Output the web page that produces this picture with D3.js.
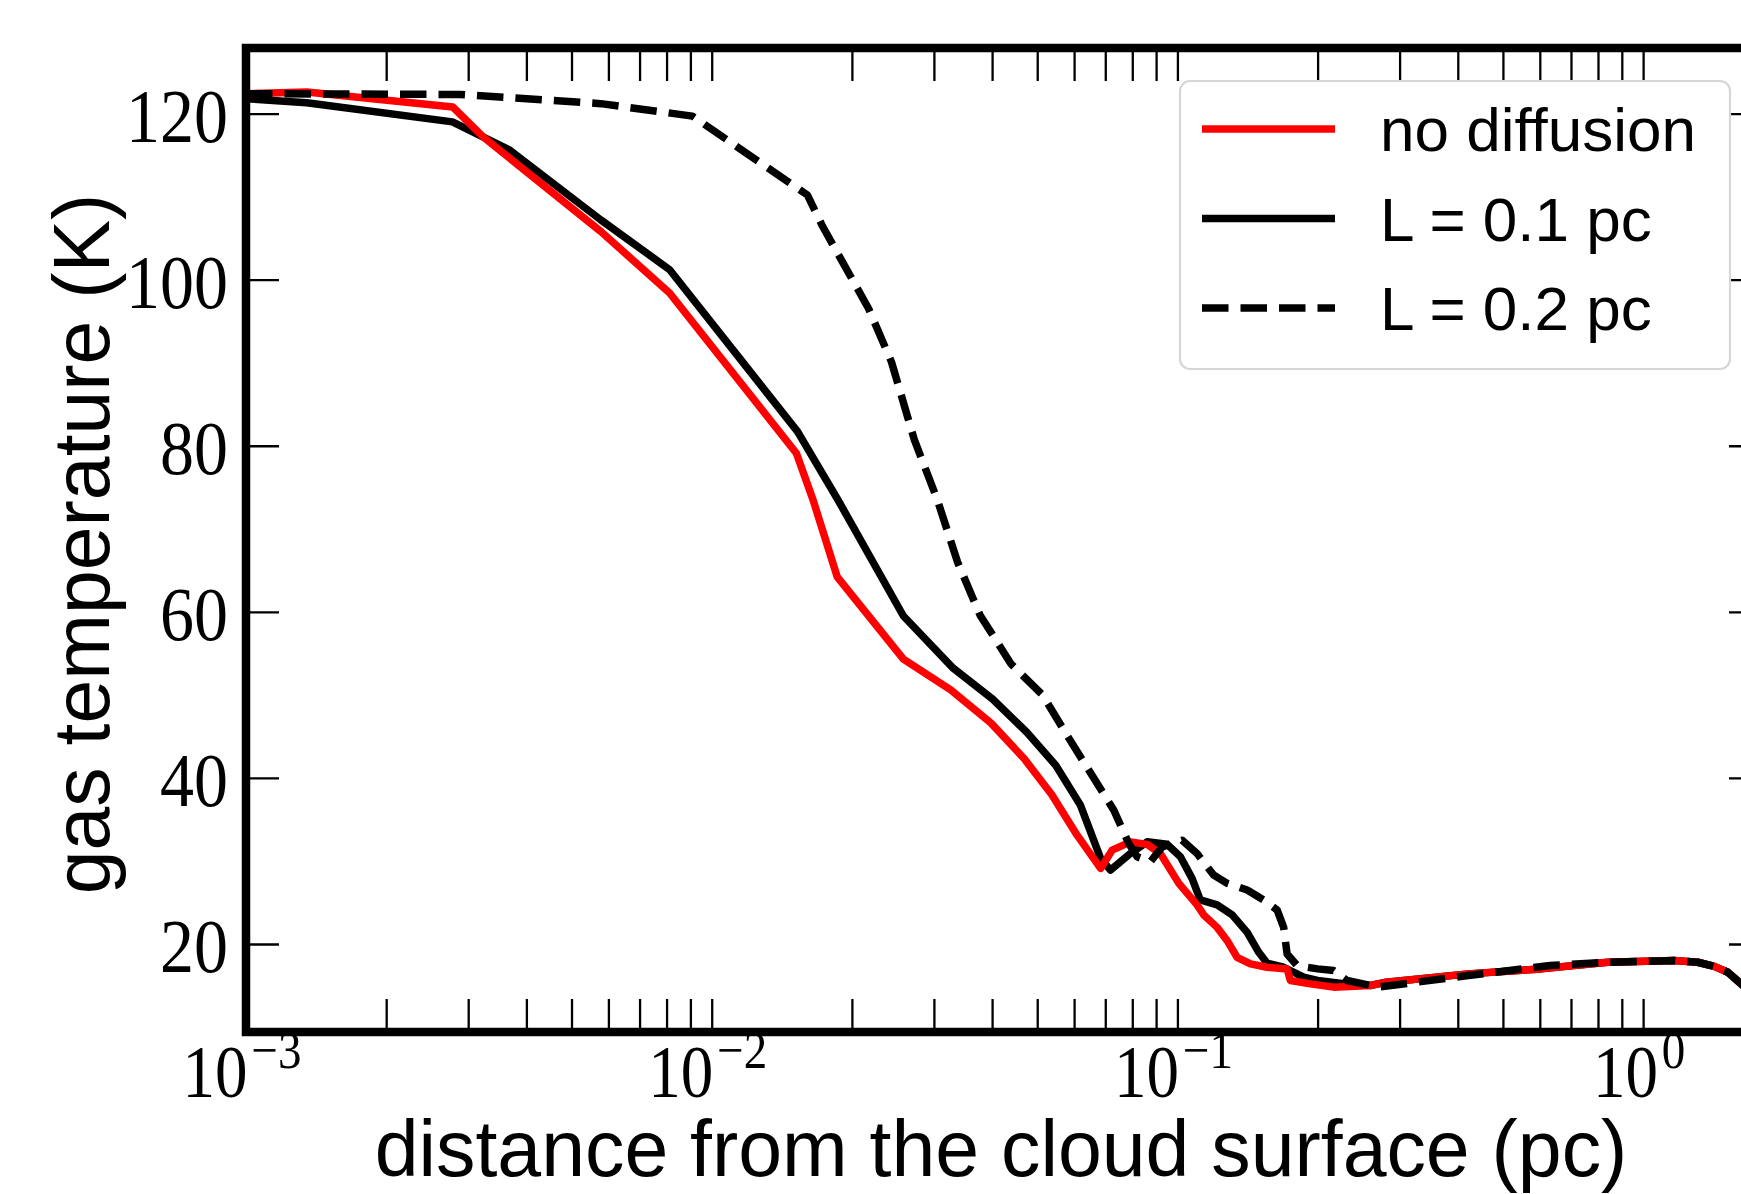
<!DOCTYPE html>
<html>
<head>
<meta charset="utf-8">
<script src="https://cdn.jsdelivr.net/npm/d3@7"></script>
<style>
  html, body { margin: 0; padding: 0; background: #fff; }
  svg { display: block; }
  .serif { font-family: "Liberation Serif", "Times New Roman", serif; fill: #000; }
  .sans { font-family: "Liberation Sans", Arial, sans-serif; fill: #000; }
</style>
</head>
<body>
<svg id="chart" width="1741" height="1194"></svg>
<script>
// distance from the cloud surface (pc) and gas temperature (K)
const noDiffusionX = [0.001, 0.00135, 0.00278, 0.00323, 0.00578, 0.00812, 0.0152, 0.0165, 0.0186, 0.0258,
  0.0326, 0.0398, 0.0469, 0.0537, 0.0609, 0.0684, 0.0724, 0.0793, 0.0861, 0.0919, 0.1007, 0.1102, 0.1139,
  0.1217, 0.1279, 0.1343, 0.1435, 0.1557, 0.172, 0.1748, 0.193, 0.2164, 0.2595, 0.281, 0.421, 0.604, 0.71,
  0.84, 1.167, 1.31, 1.422, 1.52, 1.623, 1.78];
const noDiffusionT = [122.4, 122.6, 120.8, 117.2, 105.8, 98.4, 79.1, 73.5, 64.2, 54.3,
  50.6, 46.6, 42.3, 38.0, 33.1, 29.1, 31.3, 32.3, 32.0, 30.9, 27.3, 24.7, 23.5,
  22.0, 20.4, 18.4, 17.6, 17.2, 17.0, 15.6, 15.2, 14.8, 15.0, 15.4, 16.4, 17.0, 17.4,
  17.8, 18.0, 17.8, 17.3, 16.6, 15.2, 13.2];

const l01X = [0.001, 0.00135, 0.002775, 0.003685, 0.005778, 0.008123, 0.01529, 0.01866, 0.0258, 0.03302,
  0.04009, 0.04749, 0.05483, 0.06193, 0.0684, 0.07181, 0.0793, 0.0861, 0.095, 0.1015, 0.1075, 0.112,
  0.1217, 0.1311, 0.1412, 0.1495, 0.1557, 0.1691, 0.1866, 0.2, 0.2275, 0.2595, 0.281, 0.421, 0.604, 0.71,
  0.84, 1.167, 1.31, 1.422, 1.52, 1.623, 1.78];
const l01T = [121.8, 121.3, 119.0, 115.6, 107.2, 101.2, 81.7, 73.5, 59.5, 53.2,
  49.5, 45.5, 41.5, 36.7, 30.3, 28.9, 30.9, 32.3, 32.0, 30.5, 27.9, 25.3,
  24.7, 23.5, 21.4, 19.0, 17.7, 17.2, 16.0, 15.6, 15.2, 15.0, 15.4, 16.4, 17.0, 17.4,
  17.8, 18.0, 17.8, 17.3, 16.6, 15.2, 13.2];

const l02X = [0.001, 0.002879, 0.005778, 0.00909, 0.01605, 0.01731, 0.02173, 0.02432, 0.02724, 0.03051,
  0.03372, 0.03769, 0.04397, 0.05131, 0.05859, 0.06541, 0.07303, 0.07862, 0.08195, 0.08752, 0.09273,
  0.1023, 0.1102, 0.1196, 0.1279, 0.1412, 0.1531, 0.1637, 0.1691, 0.172, 0.1807, 0.2, 0.2164, 0.2313,
  0.2699, 0.421, 0.631, 0.84, 1.167, 1.31, 1.422, 1.52, 1.623, 1.78];
const l02T = [122.4, 122.3, 121.2, 119.7, 110.2, 106.4, 96.5, 90.1, 80.7, 73.5,
  66.0, 59.6, 53.7, 50.0, 44.7, 40.4, 36.1, 32.1, 30.5, 29.9, 31.7,
  32.5, 30.9, 28.3, 27.3, 26.5, 25.3, 24.1, 22.0, 18.8, 17.4, 17.0, 16.8, 15.6,
  14.8, 16.2, 17.4, 17.8, 18.0, 17.8, 17.3, 16.6, 15.2, 13.2];

const legendLabels = ["no diffusion", "L = 0.1 pc", "L = 0.2 pc"];
const yTickValues = [20, 40, 60, 80, 100, 120];
const xMajorExponents = [-3, -2, -1, 0];
const xDomain = [1e-3, 1.8];
const yDomain = [9.4, 127.9];
const xLabel = "distance from the cloud surface (pc)";
const yLabel = "gas temperature (K)";

const margin = { top: 48, left: 246 };
const innerW = 1516;
const innerH = 984;
const tickLen = 33;
const dash = "26.5 12";

const svg = d3.select("#chart");
const g = svg.append("g").attr("transform", `translate(${margin.left},${margin.top})`);

const x = d3.scaleLog().domain(xDomain).range([0, innerW]);
const y = d3.scaleLinear().domain(yDomain).range([innerH, 0]);

svg.append("defs").append("clipPath").attr("id", "plot-clip")
  .append("rect").attr("width", innerW).attr("height", innerH);

function zip(xs, ts) {
  return xs.map((v, i) => [v, ts[i]]);
}

const series = [
  { name: legendLabels[1], data: zip(l01X, l01T), color: "#000", dash: null },
  { name: legendLabels[0], data: zip(noDiffusionX, noDiffusionT), color: "#ff0000", dash: null },
  { name: legendLabels[2], data: zip(l02X, l02T), color: "#000", dash: dash }
];

const line = d3.line().x((d) => x(d[0])).y((d) => y(d[1]));

g.append("g").attr("clip-path", "url(#plot-clip)")
  .selectAll("path")
  .data(series)
  .join("path")
  .attr("fill", "none")
  .attr("stroke", (d) => d.color)
  .attr("stroke-width", 7.5)
  .attr("stroke-linejoin", "round")
  .attr("stroke-dasharray", (d) => d.dash)
  .attr("d", (d) => line(d.data));

// log ticks, 1..9 in every decade inside the domain
const xTickValues = [];
for (let e = -3; e <= 0; e += 1) {
  for (let m = 1; m <= 9; m += 1) {
    const v = m * Math.pow(10, e);
    if (v >= xDomain[0] && v <= xDomain[1]) xTickValues.push(v);
  }
}

function styleAxis(sel) {
  sel.select(".domain").remove();
  sel.selectAll(".tick line").attr("stroke", "#000").attr("stroke-width", 2.3);
  sel.selectAll(".tick text").remove();
}

g.append("g").attr("transform", `translate(0,${innerH})`)
  .call(d3.axisBottom(x).tickValues(xTickValues).tickSize(-tickLen).tickFormat(""))
  .call(styleAxis);
g.append("g")
  .call(d3.axisTop(x).tickValues(xTickValues).tickSize(-tickLen).tickFormat(""))
  .call(styleAxis);
g.append("g")
  .call(d3.axisLeft(y).tickValues(yTickValues).tickSize(-tickLen).tickFormat(""))
  .call(styleAxis);
g.append("g").attr("transform", `translate(${innerW},0)`)
  .call(d3.axisRight(y).tickValues(yTickValues).tickSize(-tickLen).tickFormat(""))
  .call(styleAxis);

// frame
g.append("rect")
  .attr("width", innerW).attr("height", innerH)
  .attr("fill", "none").attr("stroke", "#000").attr("stroke-width", 8.5);

// y tick labels (serif, slightly tall like the TeX digits)
g.append("g").selectAll("text")
  .data(yTickValues)
  .join("text")
  .attr("class", "serif")
  .attr("text-anchor", "end")
  .attr("font-size", 68)
  .attr("transform", (d) => `translate(-18,${y(d) + 28.5}) scale(1,1.12)`)
  .text((d) => d);

// x tick labels 10^n
const xl = g.append("g").selectAll("text")
  .data(xMajorExponents)
  .join("text")
  .attr("class", "serif")
  .attr("text-anchor", "middle")
  .attr("font-size", 65)
  .attr("transform", (d) => `translate(${x(Math.pow(10, d)) - 4},${innerH + 65}) scale(1,1.13)`);
xl.append("tspan").text("10");
xl.append("tspan")
  .attr("font-size", 47)
  .attr("dy", -26)
  .attr("dx", 4)
  .text((d) => (d < 0 ? "\u2212" + Math.abs(d) : String(d)));

// axis titles
svg.append("text")
  .attr("class", "sans")
  .attr("font-size", 78.8)
  .attr("text-anchor", "middle")
  .attr("x", 1001).attr("y", 1176)
  .text(xLabel);

svg.append("text")
  .attr("class", "sans")
  .attr("font-size", 78.8)
  .attr("text-anchor", "middle")
  .attr("transform", "translate(109,544) rotate(-90)")
  .text(yLabel);

// legend
const legend = svg.append("g").attr("transform", "translate(1180,81)");
legend.append("rect")
  .attr("width", 550).attr("height", 288)
  .attr("rx", 10).attr("ry", 10)
  .attr("fill", "#fff").attr("fill-opacity", 0.8)
  .attr("stroke", "#d6d6d6").attr("stroke-width", 2.2);

const legendItems = [
  { name: legendLabels[0], color: "#ff0000", dash: null },
  { name: legendLabels[1], color: "#000", dash: null },
  { name: legendLabels[2], color: "#000", dash: dash }
];

const rows = legend.selectAll("g.row")
  .data(legendItems)
  .join("g")
  .attr("class", "row")
  .attr("transform", (d, i) => `translate(0,${48 + i * 89.5})`);

rows.append("line")
  .attr("x1", 22).attr("x2", 155)
  .attr("stroke", (d) => d.color)
  .attr("stroke-width", 7.5)
  .attr("stroke-dasharray", (d) => d.dash);

rows.append("text")
  .attr("class", "sans")
  .attr("font-size", 62)
  .attr("x", 200).attr("y", 22)
  .text((d) => d.name);
</script>
</body>
</html>
